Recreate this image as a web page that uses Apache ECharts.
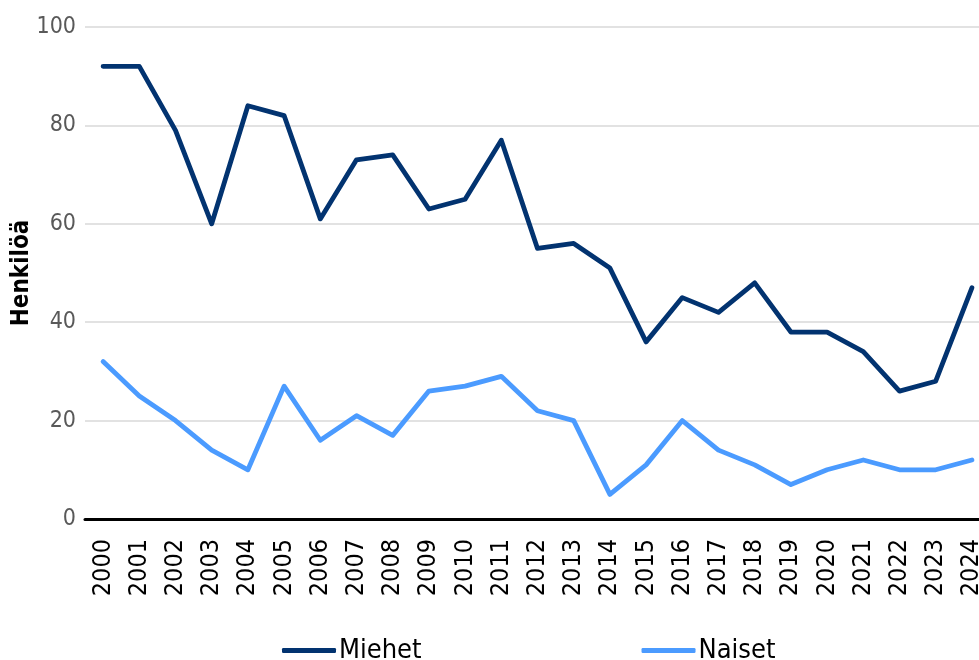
<!DOCTYPE html>
<html><head><meta charset="utf-8">
<script src="https://cdn.jsdelivr.net/npm/echarts@6/dist/echarts.min.js"></script>
<style>html,body{margin:0;padding:0;background:#fff}#c{width:979px;height:660px}</style>
</head><body><div id="c"></div>
<script>
const years = ['2000','2001','2002','2003','2004','2005','2006','2007','2008','2009','2010','2011','2012','2013','2014','2015','2016','2017','2018','2019','2020','2021','2022','2023','2024'];
const miehet = [92,92,79,60,84,82,61,73,74,63,65,77,55,56,51,36,45,42,48,38,38,34,26,28,47];
const naiset = [32,25,20,14,10,27,16,21,17,26,27,29,22,20,5,11,20,14,11,7,10,12,10,10,12];
const yTicks = [0,20,40,60,80,100];
const font = '"DejaVu Sans Condensed", "DejaVu Sans", sans-serif';
const chart = echarts.init(document.getElementById('c'));
chart.setOption({
  animation: false,
  grid: {left: 85, width: 905, top: 27, bottom: 141, containLabel: false, outerBoundsMode: 'none'},
  legend: {
    top: 637, left: 282, padding: 0, itemWidth: 54, itemHeight: 5, itemGap: 220,
    icon: 'roundRect',
    textStyle: {fontFamily: font, fontSize: 27, color: '#000', padding: [0,0,0,-2]},
    data: ['Miehet','Naiset']
  },
  xAxis: {
    type: 'category', data: years, boundaryGap: true,
    axisLine: {lineStyle: {color: '#000', width: 3}},
    axisTick: {show: false},
    axisLabel: {rotate: 90, fontFamily: font, fontSize: 25, color: '#000', margin: 20}
  },
  yAxis: {
    type: 'value', min: 0, max: 100, interval: 20,
    name: 'Henkilöä', nameLocation: 'middle', nameGap: 51, nameRotate: 90, nameMoveOverlap: false,
    nameTextStyle: {fontFamily: font, fontSize: 24, fontWeight: 'bold', color: '#000'},
    axisLine: {show: false}, axisTick: {show: false},
    splitLine: {lineStyle: {color: '#d9d9d9', width: 1.5}},
    axisLabel: {fontFamily: font, fontSize: 23, color: '#595959', margin: 9,
      formatter: v => yTicks.includes(v) ? String(v) : ''}
  },
  series: [
    {name: 'Miehet', type: 'line', data: miehet, symbol: 'none',
     lineStyle: {color: '#023370', width: 4.8, cap: 'round', join: 'round'}, itemStyle: {color: '#023370'}},
    {name: 'Naiset', type: 'line', data: naiset, symbol: 'none',
     lineStyle: {color: '#4b9bff', width: 4.8, cap: 'round', join: 'round'}, itemStyle: {color: '#4b9bff'}}
  ]
});
</script></body></html>
